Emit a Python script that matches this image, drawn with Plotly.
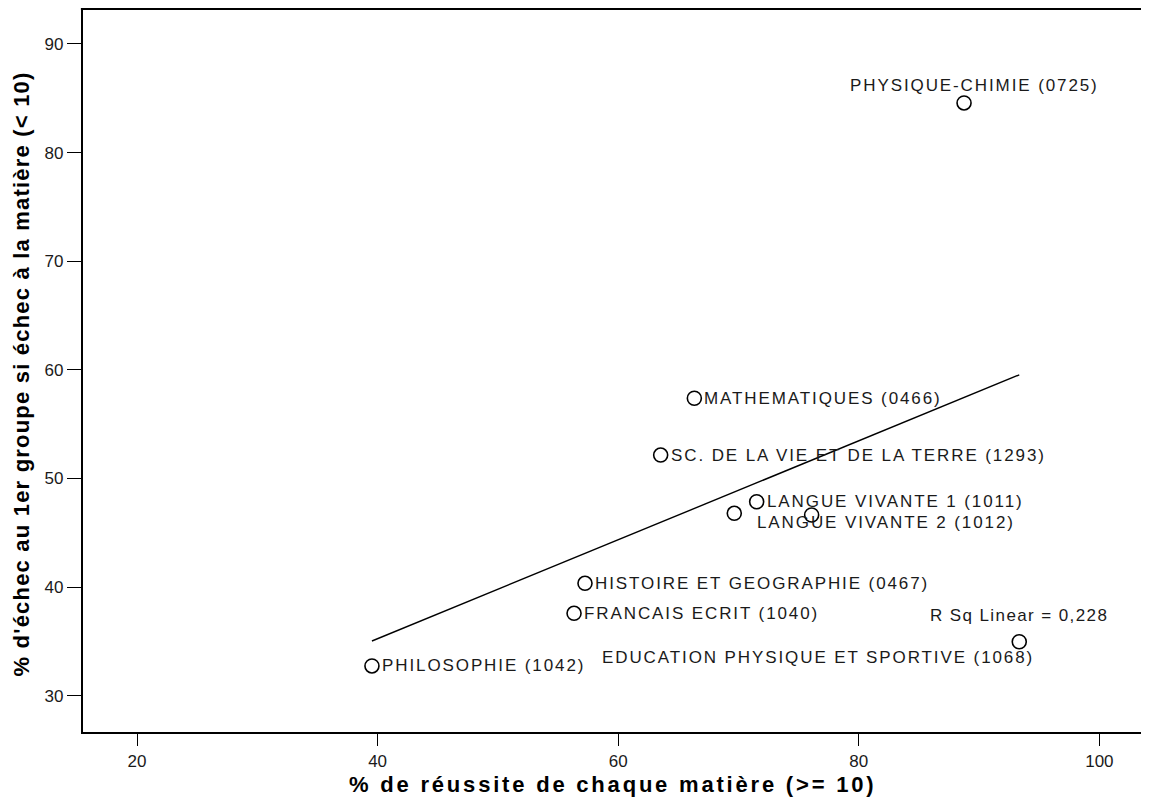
import numpy as np
import plotly.graph_objects as go

# ---------------- data ----------------
subjects = [
    "PHYSIQUE-CHIMIE (0725)",
    "MATHEMATIQUES (0466)",
    "SC. DE LA VIE ET DE LA TERRE (1293)",
    "LANGUE VIVANTE 1 (1011)",
    "LANGUE VIVANTE 2 (1012)",
    "",
    "HISTOIRE ET GEOGRAPHIE (0467)",
    "FRANCAIS ECRIT (1040)",
    "PHILOSOPHIE (1042)",
    "EDUCATION PHYSIQUE ET SPORTIVE (1068)",
]
reussite = [88.75, 66.33, 63.53, 71.51, 69.65, 76.08, 57.24, 56.33, 39.53, 93.34]
echec = [84.57, 57.38, 52.15, 47.85, 46.79, 46.63, 40.34, 37.58, 32.73, 34.96]
r_squared = 0.228
x_ticks = [20, 40, 60, 80, 100]
y_ticks = [30, 40, 50, 60, 70, 80, 90]
x_title = "% de réussite de chaque matière (>= 10)"
y_title = "% d'échec au 1er groupe si échec à la matière (< 10)"

# ---------------- label placement (style) ----------------
label_style = [
    dict(xanchor="center", xshift=10, yshift=17),
    dict(xanchor="left", xshift=8, yshift=0),
    dict(xanchor="left", xshift=8, yshift=0),
    dict(xanchor="left", xshift=8, yshift=0),
    dict(xanchor="left", xshift=21, yshift=-9),
    None,
    dict(xanchor="left", xshift=8, yshift=0),
    dict(xanchor="left", xshift=8, yshift=0),
    dict(xanchor="left", xshift=8, yshift=0),
    dict(xanchor="right", xshift=17, yshift=-16),
]

FONT = "Liberation Sans, Arial, sans-serif"
TXT = "#1a1a1a"


def spaced(s, px):
    return f'<span style="letter-spacing:{px}px">{s}</span>'


fig = go.Figure()

# regression line
slope, intercept = np.polyfit(reussite, echec, 1)
xfit = np.array([min(reussite), max(reussite)])
fig.add_trace(go.Scatter(
    x=xfit, y=slope * xfit + intercept, mode="lines",
    line=dict(color="black", width=1.4), hoverinfo="skip", showlegend=False,
))

# points
fig.add_trace(go.Scatter(
    x=reussite, y=echec, mode="markers",
    marker=dict(symbol="circle-open", size=14, color="black", line=dict(width=1.6)),
    text=subjects, showlegend=False,
))

annotations = []
for name, xv, yv, st in zip(subjects, reussite, echec, label_style):
    if not name or st is None:
        continue
    annotations.append(dict(
        x=xv, y=yv, xref="x", yref="y", text=spaced(name, 1.9), showarrow=False,
        xanchor=st["xanchor"], yanchor="middle", xshift=st["xshift"], yshift=st["yshift"],
        font=dict(family=FONT, size=17, color=TXT),
    ))

# R squared label near the right-most point
imax = int(np.argmax(reussite))
annotations.append(dict(
    x=reussite[imax], y=echec[imax], xref="x", yref="y",
    text=spaced("R Sq Linear = " + f"{r_squared:.3f}".replace(".", ","), 1.4),
    showarrow=False, xanchor="center", yanchor="middle", yshift=26,
    font=dict(family=FONT, size=17, color=TXT),
))

# axis titles
title_font = dict(family=FONT, size=22, color="black", weight="bold")
annotations.append(dict(
    x=0.5, y=0, xref="paper", yref="paper", text=spaced(x_title, 2.8), showarrow=False,
    xanchor="center", yanchor="middle", yshift=-52, font=title_font,
))
annotations.append(dict(
    x=0, y=0.5, xref="paper", yref="paper", text=spaced(y_title, 1.2), showarrow=False,
    xanchor="center", yanchor="middle", xshift=-62, yshift=-4, textangle=-90, font=title_font,
))

fig.update_layout(
    width=1133, height=789,
    margin=dict(l=75, r=0, t=1, b=65),
    paper_bgcolor="white", plot_bgcolor="white",
    font=dict(family=FONT, color=TXT),
    annotations=annotations,
    showlegend=False,
    shapes=[dict(type="line", xref="paper", yref="paper", x0=-0.002, x1=1.0, y0=1, y1=1,
                 line=dict(color="black", width=2.2), layer="above")],
)

fig.update_xaxes(
    range=[15.51, 103.46], tickvals=x_ticks, ticktext=[str(v) for v in x_ticks],
    showgrid=False, zeroline=False,
    showline=True, linecolor="black", linewidth=2.2, mirror=False,
    ticks="outside", ticklen=12, tickwidth=1.4, tickcolor="black",
    tickfont=dict(family=FONT, size=17, color=TXT),
    automargin=False,
)
fig.update_yaxes(
    range=[26.65, 93.22], tickvals=y_ticks, ticktext=[str(v) for v in y_ticks],
    showgrid=False, zeroline=False,
    showline=True, linecolor="black", linewidth=2.2, mirror=False,
    ticks="outside", ticklen=14, tickwidth=1.4, tickcolor="black",
    tickfont=dict(family=FONT, size=17, color=TXT),
    automargin=False,
)

fig.write_html("out.html")
